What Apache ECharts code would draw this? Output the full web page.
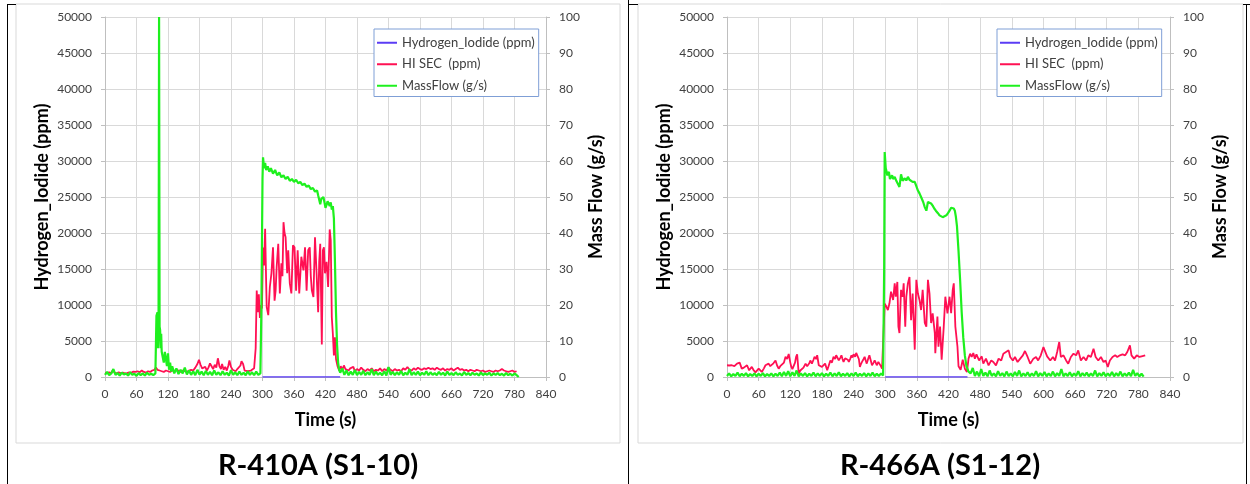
<!DOCTYPE html>
<html>
<head>
<meta charset="utf-8">
<script src="https://cdn.jsdelivr.net/npm/echarts@6/dist/echarts.min.js"></script>
<style>
  html, body { margin: 0; padding: 0; background: #fff; }
  #main { width: 1250px; height: 484px; }
</style>
</head>
<body>
<div id="main"></div>
<script>
// names
var seriesNames = ['Hydrogen_Iodide (ppm)', 'HI SEC  (ppm)', 'MassFlow (g/s)'];
var panelTitles = ['R-410A (S1-10)', 'R-466A (S1-12)'];

// ---- R-410A (S1-10) ----
var hiA = [[300, 0], [378, 0], [381, 80], [384, 0], [448, 0]];
var hiSecA = [
  [0,600],[4,500],[8,650],[12,550],[15,1000],[18,600],[22,500],[26,650],[30,550],[34,600],[38,500],[42,550],
  [46,650],[50,600],[54,750],[58,700],[62,800],[66,650],[70,900],[74,700],[78,600],[82,800],[86,700],[90,900],
  [94,1000],[97,1300],[100,1000],[104,900],[108,800],[112,700],[116,900],[120,800],[124,700],[128,900],[132,800],
  [136,1000],[140,900],[144,700],[148,900],[152,800],[156,700],[160,900],[164,1000],[168,900],[172,1300],[176,1800],
  [179,2400],[182,1700],[185,1200],[188,1000],[191,1400],[194,900],[197,1300],[200,1900],[203,1500],[206,1100],
  [209,1700],[212,1300],[215,2600],[218,1500],[221,1100],[223,1800],[226,1000],[229,1400],[232,900],[235,1600],
  [237,2300],[240,1400],[243,1000],[246,1200],[249,800],[252,1100],[255,900],[258,1600],[260,2200],[263,1800],
  [266,900],[269,700],[272,800],[275,700],[278,900],[281,800],[284,1200],[287,4000],[289,12000],[291,9000],
  [293,11500],[295,8200],[297,10000],[299,9500],[301,18000],[303,15500],[305,20600],[307,13000],[308,9700],
  [311,8600],[314,12500],[317,14400],[320,18000],[323,10600],[325,12000],[327,15300],[330,18500],[333,11600],
  [336,15800],[338,14000],[340,21500],[342,20000],[344,19400],[347,14400],[349,17600],[352,13000],[355,11600],
  [358,18300],[361,18000],[364,12000],[367,17600],[370,11600],[374,16700],[378,14800],[381,18000],[384,12000],
  [387,17600],[390,18000],[392,14000],[394,12000],[397,11100],[400,19400],[403,14400],[406,9000],[408,16000],
  [410,18500],[413,4500],[415,17600],[417,18000],[419,14400],[422,16000],[425,12500],[428,20500],[430,19000],
  [432,8300],[434,6000],[436,3000],[438,5500],[440,2500],[443,1500],[446,900],[449,1500],[452,1000],[455,1600],
  [458,1100],[461,1300],[464,900],[467,1200],[470,1000],[473,1400],[476,800],[480,1100],[484,900],[488,1300],
  [492,1000],[496,800],[500,1100],[504,900],[508,1200],[512,800],[516,1000],[520,900],[524,1200],[528,800],
  [532,1100],[536,900],[540,1300],[544,1000],[548,800],[552,1100],[556,900],[560,1000],[564,800],[568,1200],
  [572,1000],[576,1400],[580,1000],[584,900],[588,1200],[592,1000],[596,1300],[600,1100],[604,1000],[608,1200],
  [612,1100],[616,1300],[620,1100],[624,1200],[628,1000],[632,1300],[636,1100],[640,1000],[644,1200],[648,900],
  [652,1100],[656,1000],[660,1200],[664,900],[668,1100],[672,1300],[676,1000],[680,1100],[684,900],[688,1000],
  [692,800],[696,1000],[700,900],[704,800],[708,1000],[712,900],[716,800],[720,900],[724,700],[728,800],
  [732,900],[736,800],[740,700],[744,900],[748,800],[752,900],[756,1100],[760,900],[764,800],[768,700],
  [772,800],[776,900],[780,700],[784,800]
];
var massFlowA = [
  [0,0.6],[4,1.4],[8,0.5],[12,1.0],[16,2.2],[20,0.6],[24,1.1],[28,0.4],[32,1.2],[36,0.7],[40,1.0],[44,0.4],
  [48,1.3],[52,0.6],[56,0.9],[60,0.3],[64,1.1],[68,0.5],[72,1.0],[76,0.4],[80,1.2],[84,0.6],[88,0.9],[92,0.5],
  [96,1.0],[98,17],[100,18],[101,8],[102,14],[103,100],[104,14],[105,13],[106,8],[107,12],[108,7],[110,6.5],
  [112,4],[114,7],[116,5],[118,3],[120,6.6],[122,2],[124,4],[126,1.5],[128,3],[132,1],[136,2.4],[140,0.8],
  [144,2],[148,1],[152,2.6],[156,0.7],[160,1.8],[164,0.6],[168,1.6],[172,0.5],[176,2],[180,0.7],[184,1.5],
  [188,0.5],[192,1.7],[196,0.6],[200,1.4],[204,0.5],[208,1.8],[212,0.6],[216,1.3],[220,0.5],[224,1.6],[228,0.6],
  [232,1.2],[236,0.4],[240,1.9],[244,0.6],[248,1.3],[252,0.5],[256,1.5],[260,0.6],[264,1.2],[268,0.5],[272,1.6],
  [276,0.6],[280,1.3],[284,0.5],[288,1.5],[292,0.6],[296,1.0],[298,20],[300,55],[301,61],[303,58],[305,59.5],
  [307,57.5],[310,58.5],[313,57],[316,58],[320,56.5],[324,57.5],[328,56],[332,56.8],[336,55.5],[340,56],[344,55],
  [348,55.6],[352,54.5],[356,55],[360,54.2],[364,54.8],[368,53.8],[372,54.2],[376,53.3],[380,53.7],[384,52.8],
  [388,53.2],[392,52.2],[396,52.5],[400,51.5],[404,51.8],[406,50.5],[408,51],[410,48],[412,49.5],[414,49],
  [416,50],[418,48.5],[420,47],[422,47.8],[424,48.8],[426,49.2],[428,47.5],[430,48.5],[432,46.5],[434,47.5],
  [436,44],[438,32],[440,18],[442,9],[444,4],[446,2],[448,1.2],[452,2.4],[456,0.6],[460,1.8],[464,0.5],[468,1.5],
  [472,0.6],[476,2],[480,0.5],[484,1.4],[488,0.6],[492,1.7],[496,0.5],[500,1.3],[504,0.6],[508,2.2],[512,0.5],
  [516,1.5],[520,0.6],[524,1.2],[528,0.5],[532,1.6],[536,0.4],[540,2.8],[544,0.6],[548,1.4],[552,0.5],[556,1.3],
  [560,0.6],[564,1.7],[568,0.5],[572,1.2],[576,0.6],[580,2.2],[584,0.5],[588,1.3],[592,0.6],[596,1.5],[600,0.5],
  [604,1.2],[608,0.6],[612,1.6],[616,0.5],[620,1.3],[624,0.6],[628,1.1],[632,0.5],[636,1.4],[640,0.6],[644,1.2],
  [648,0.4],[652,1.5],[656,0.6],[660,1.1],[664,0.5],[668,1.3],[672,0.6],[676,1.0],[680,0.4],[684,1.4],[688,0.6],
  [692,1.1],[696,0.5],[700,1.2],[704,0.6],[708,1.0],[712,0.4],[716,1.3],[720,0.5],[724,1.0],[728,0.6],[732,1.2],
  [736,0.4],[740,1.0],[744,0.6],[748,1.1],[752,0.5],[756,0.9],[760,0.4],[764,1.1],[768,0.5],[772,0.9],[776,0.4],
  [780,1.0],[784,0.5],[788,0]
];

// ---- R-466A (S1-12) ----
var hiB = [[300, 0], [364, 0], [366, 60], [368, 0], [456, 0]];
var hiSecB = [
  [0,1630],[4,1600],[9,1630],[14,1500],[19,1860],[24,2000],[28,1160],[32,1300],[35,1400],[38,1630],[42,930],
  [47,1400],[50,1000],[54,650],[57,900],[60,1160],[63,900],[66,700],[70,1200],[73,1630],[76,1400],[79,1860],
  [82,1500],[85,1630],[88,1900],[92,2300],[95,1600],[98,1160],[101,1500],[104,1400],[108,2000],[111,2800],
  [114,2500],[117,3200],[120,2000],[122,1400],[124,1100],[126,1160],[129,2000],[131,2800],[133,3150],[136,460],
  [139,900],[142,700],[145,1300],[149,1860],[152,1500],[154,1400],[156,1900],[158,2300],[161,1860],[164,2400],
  [166,2800],[169,2500],[171,3020],[174,1630],[177,1500],[180,1400],[183,1600],[186,1860],[190,930],[193,1600],
  [196,2300],[199,2000],[202,2800],[205,2500],[207,3020],[210,2600],[212,2300],[215,2700],[217,3020],[219,2500],
  [221,2100],[224,2600],[226,2800],[229,2400],[231,2100],[234,2600],[236,3020],[238,2700],[240,3160],[243,2800],
  [245,3350],[248,3500],[250,2500],[252,1400],[254,1800],[256,2100],[259,2500],[261,2800],[263,2300],[265,1860],
  [268,2600],[270,3020],[273,2200],[275,1630],[278,2000],[280,2300],[282,2000],[284,1630],[287,2100],[289,1860],
  [292,1475],[294,1160],[296,1000],[297,930],[299,10200],[302,9800],[305,9300],[308,10200],[311,11850],
  [315,10700],[318,13000],[320,11150],[323,13200],[325,7000],[327,6100],[330,12100],[333,11150],[335,13000],
  [338,7000],[340,11150],[343,13000],[346,13900],[349,7900],[352,11600],[356,3800],[359,13500],[362,11600],
  [365,10700],[368,9300],[371,12100],[375,7500],[378,7000],[381,13500],[384,11600],[387,7500],[390,8850],
  [394,6100],[395,3300],[399,8400],[401,4200],[404,7000],[407,2400],[411,7000],[414,11150],[418,8850],
  [422,11150],[425,8850],[428,12100],[430,13000],[433,7000],[437,4200],[439,1500],[443,1000],[447,2400],
  [451,1160],[455,700],[458,2550],[461,3240],[464,2780],[467,3330],[470,2550],[473,3150],[478,2300],[483,2870],
  [486,1850],[491,2550],[496,1620],[501,2300],[505,2080],[510,1620],[515,2550],[520,2300],[524,3240],[529,3470],
  [534,3700],[537,2780],[542,2300],[546,2780],[551,2080],[556,2550],[561,3010],[565,3610],[570,2780],[575,1850],
  [581,2550],[586,2780],[590,2300],[595,3010],[600,4160],[603,4400],[607,2870],[613,2300],[618,2780],[622,2300],
  [626,3470],[630,4860],[633,2780],[638,3010],[643,2300],[647,1850],[652,2780],[657,3240],[662,3010],[666,3700],
  [671,2300],[676,2780],[681,2300],[685,3010],[690,2780],[695,3930],[699,2780],[704,2300],[709,2780],[714,2080],
  [718,2300],[722,1390],[726,2300],[731,2780],[736,3010],[740,2780],[745,3010],[750,3150],[755,3010],[759,3470],
  [764,4400],[767,3010],[772,2550],[777,3010],[782,2780],[786,2870],[793,3010]
];
var massFlowB = [
  [0,0.3],[4,1.0],[8,0.2],[12,0.8],[16,0.3],[20,1.2],[24,0.2],[28,0.9],[32,0.3],[36,1.1],[40,0.2],[44,0.8],
  [48,0.3],[52,1.0],[56,0.2],[60,0.9],[64,0.3],[68,1.1],[72,0.2],[76,0.8],[80,0.3],[84,1.0],[88,0.2],[92,0.9],
  [96,0.3],[100,1.2],[104,0.2],[108,1.4],[112,0.3],[116,1.6],[120,0.2],[124,1.3],[128,0.3],[132,1.8],[136,0.2],
  [140,1.0],[144,0.3],[148,1.1],[152,0.2],[156,0.9],[160,0.3],[164,1.2],[168,0.2],[172,1.0],[176,0.3],[180,1.1],
  [184,0.2],[188,0.9],[192,0.3],[196,1.2],[200,0.2],[204,1.0],[208,0.3],[212,1.3],[216,0.2],[220,0.9],[224,0.3],
  [228,1.1],[232,0.2],[236,1.0],[240,0.3],[244,1.2],[248,0.2],[252,0.9],[256,0.3],[260,1.1],[264,0.2],[268,1.0],
  [272,0.3],[276,1.2],[280,0.2],[284,0.9],[288,0.3],[292,1.0],[296,0.4],[298,30],[299,62.5],[301,58],[302,57.4],
  [304,56],[305,55.6],[307,57],[309,55],[311,54.6],[313,56],[315,55],[318,55.6],[321,54.5],[324,54.2],[327,52.8],
  [330,56.3],[333,54.5],[337,55.2],[340,54.6],[343,55.6],[346,54.8],[349,55],[352,54.2],[356,54.2],[359,53],
  [362,51.8],[365,51],[368,50],[370,49.3],[372,48.6],[375,47.2],[378,46.2],[381,48.6],[384,49],[387,48.2],
  [390,47.6],[393,46.8],[396,46.2],[400,45.5],[403,44.9],[406,45.3],[409,44.4],[412,44.8],[416,44.9],[419,45.5],
  [422,46.2],[425,47],[428,47.2],[430,46.8],[432,46.2],[434,44.5],[436,42],[439,35],[442,27],[445,18],[448,11],
  [451,6],[454,3],[458,1.5],[462,1],[466,2.5],[470,0.3],[474,1.5],[478,0.2],[482,2.2],[486,0.3],[490,1.2],
  [494,0.2],[498,1.8],[502,0.3],[506,1.0],[510,0.2],[514,1.6],[518,0.3],[522,1.1],[526,0.2],[530,1.5],[534,0.3],
  [538,1.0],[542,0.2],[546,1.4],[550,0.3],[554,1.8],[558,0.2],[562,1.0],[566,0.3],[570,1.3],[574,0.2],[578,1.0],
  [582,0.3],[586,1.6],[590,0.2],[594,1.1],[598,0.3],[602,1.4],[606,0.2],[610,1.0],[614,0.3],[618,1.5],[622,0.2],
  [626,1.1],[630,0.3],[634,2.2],[638,0.2],[642,1.0],[646,0.3],[650,1.3],[654,0.2],[658,1.0],[662,0.3],[666,1.6],
  [670,0.2],[674,1.1],[678,0.3],[682,1.2],[686,0.2],[690,1.0],[694,0.3],[698,1.8],[702,0.2],[706,1.1],[710,0.3],
  [714,1.3],[718,0.2],[722,1.0],[726,0.3],[730,1.4],[734,0.2],[738,1.1],[742,0.3],[746,1.5],[750,0.2],[754,1.0],
  [758,0.3],[762,1.2],[766,0.2],[770,2.0],[774,0.3],[778,1.1],[782,0.2],[786,0.9],[790,0.1]
];

var FONT = 'Lato, "Open Sans", sans-serif';
var colors = ['#5b3cf5', '#ff1053', '#1ef01e'];
var widths = [1.5, 1.8, 2.2];
var gridBox = [
  { left: 105, top: 17, width: 441, height: 360 },
  { left: 727, top: 17, width: 443, height: 360 }
];
var panelData = [[hiA, hiSecA, massFlowA], [hiB, hiSecB, massFlowB]];

var myChart = echarts.init(document.getElementById('main'));

var grids = [], xAxes = [], yAxes = [], series = [], legends = [];
var gridLine = { show: true, lineStyle: { color: '#d9d9d9', width: 1 } };
var axisLine = { show: true, lineStyle: { color: '#bfbfbf' } };
var tick = { show: true, length: 4, lineStyle: { color: '#bfbfbf' } };
var lab = { color: '#404040', fontSize: 12, fontFamily: FONT, formatter: function(v) { return String(v); } };
var nameStyle = { color: '#000', fontSize: 18, fontWeight: 'bold', fontFamily: FONT };

gridBox.forEach(function(g, i) {
  grids.push(g);
  xAxes.push({
    type: 'value', gridIndex: i, min: 0, max: 840, interval: 60,
    name: 'Time (s)', nameLocation: 'middle', nameGap: 34, nameTextStyle: nameStyle,
    axisLine: axisLine, axisTick: tick, splitLine: gridLine,
    axisLabel: Object.assign({ margin: 11 }, lab)
  });
  yAxes.push({
    type: 'value', gridIndex: i, position: 'left', min: 0, max: 50000, interval: 5000,
    name: 'Hydrogen_Iodide (ppm)', nameLocation: 'middle', nameGap: 54, nameTextStyle: nameStyle,
    axisLine: axisLine, axisTick: tick, splitLine: gridLine,
    axisLabel: Object.assign({ margin: 13 }, lab)
  });
  yAxes.push({
    type: 'value', gridIndex: i, position: 'right', min: 0, max: 100, interval: 10,
    name: 'Mass Flow (g/s)', nameLocation: 'middle', nameGap: 41, nameRotate: 90, nameTextStyle: nameStyle,
    axisLine: axisLine, axisTick: tick, splitLine: { show: false },
    axisLabel: Object.assign({ margin: 13 }, lab)
  });
  panelData[i].forEach(function(d, k) {
    series.push({
      name: seriesNames[k], type: 'line', data: d,
      xAxisIndex: i, yAxisIndex: k === 2 ? i * 2 + 1 : i * 2,
      symbol: 'none', animation: false,
      lineStyle: { color: colors[k], width: widths[k] },
      itemStyle: { color: colors[k] }
    });
  });
  legends.push({
    data: seriesNames, orient: 'vertical',
    left: i === 0 ? 374 : 997, top: 29,
    icon: 'rect', itemWidth: 20, itemHeight: 2, itemGap: 6,
    backgroundColor: '#fff', borderColor: '#7f9fd6', borderWidth: 1, borderRadius: 0,
    padding: [6, 4, 3, 3],
    textStyle: { color: '#404040', fontSize: 13, lineHeight: 15.5, fontFamily: FONT }
  });
});

var option = {
  backgroundColor: '#fff',
  animation: false,
  grid: grids, xAxis: xAxes, yAxis: yAxes, series: series, legend: legends,
  graphic: [
    { type: 'rect', shape: { x: 16, y: 4, width: 604, height: 439 }, style: { fill: 'none', stroke: '#d9d9d9', lineWidth: 1 }, z: -10 },
    { type: 'rect', shape: { x: 638, y: 4, width: 605, height: 439 }, style: { fill: 'none', stroke: '#d9d9d9', lineWidth: 1 }, z: -10 },
    { type: 'line', shape: { x1: 7.5, y1: 4, x2: 7.5, y2: 484 }, style: { stroke: '#000', lineWidth: 1 } },
    { type: 'line', shape: { x1: 7, y1: 4.5, x2: 16, y2: 4.5 }, style: { stroke: '#000', lineWidth: 1 } },
    { type: 'line', shape: { x1: 628.5, y1: 0, x2: 628.5, y2: 484 }, style: { stroke: '#000', lineWidth: 1 } },
    { type: 'line', shape: { x1: 628, y1: 4.5, x2: 638, y2: 4.5 }, style: { stroke: '#000', lineWidth: 1 } },
    { type: 'line', shape: { x1: 1246.5, y1: 4, x2: 1246.5, y2: 484 }, style: { stroke: '#000', lineWidth: 1 } },
    { type: 'line', shape: { x1: 1243, y1: 4.5, x2: 1250, y2: 4.5 }, style: { stroke: '#000', lineWidth: 1 } },
    { type: 'text', x: 318, y: 466, style: { text: panelTitles[0], font: 'bold 29px ' + FONT, fill: '#000', textAlign: 'center', textVerticalAlign: 'middle' } },
    { type: 'text', x: 940, y: 466, style: { text: panelTitles[1], font: 'bold 29px ' + FONT, fill: '#000', textAlign: 'center', textVerticalAlign: 'middle' } }
  ]
};

myChart.setOption(option);
</script>
</body>
</html>
